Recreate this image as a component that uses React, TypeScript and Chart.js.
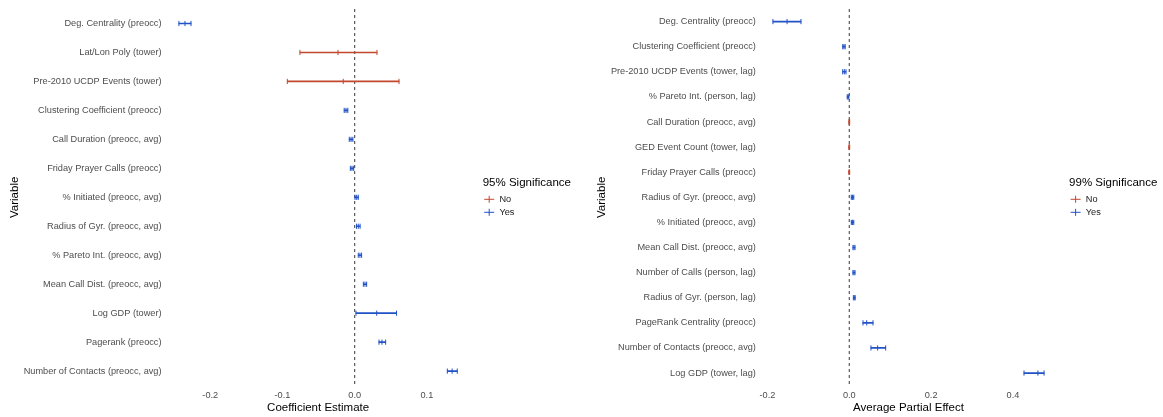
import React, { useEffect, useRef } from 'react';
import { Chart, registerables } from 'chart.js';

Chart.register(...registerables);

const RED = '#C4472F';
const BLUE = '#2152C6';
const FONT = "'Liberation Sans', Arial, Helvetica, sans-serif";

// ---- Left panel: coefficient estimates (95% CI) ----
const leftLabels = [
  'Deg. Centrality (preocc)',
  'Lat/Lon Poly (tower)',
  'Pre-2010 UCDP Events (tower)',
  'Clustering Coefficient (preocc)',
  'Call Duration (preocc, avg)',
  'Friday Prayer Calls (preocc)',
  '% Initiated (preocc, avg)',
  'Radius of Gyr. (preocc, avg)',
  '% Pareto Int. (preocc, avg)',
  'Mean Call Dist. (preocc, avg)',
  'Log GDP (tower)',
  'Pagerank (preocc)',
  'Number of Contacts (preocc, avg)',
];
const leftEstimate = [-0.235, -0.0231, -0.0158, -0.012, -0.005, -0.0037, 0.0028, 0.005, 0.0073, 0.0143, 0.0305, 0.0378, 0.135];
const leftLower = [-0.2434, -0.0758, -0.0933, -0.0145, -0.0075, -0.006, 0.0005, 0.0025, 0.005, 0.012, 0.0018, 0.0337, 0.1283];
const leftUpper = [-0.2267, 0.0309, 0.0614, -0.0095, -0.0025, -0.0014, 0.005, 0.0075, 0.0096, 0.0166, 0.058, 0.0429, 0.1421];
const leftSignificant = [true, false, false, true, true, true, true, true, true, true, true, true, true];
const leftTicks = [-0.2, -0.1, 0.0, 0.1];
const leftMin = -0.2627;
const leftMax = 0.1614;

// ---- Right panel: average partial effects (99% CI) ----
const rightLabels = [
  'Deg. Centrality (preocc)',
  'Clustering Coefficient (preocc)',
  'Pre-2010 UCDP Events (tower, lag)',
  '% Pareto Int. (person, lag)',
  'Call Duration (preocc, avg)',
  'GED Event Count (tower, lag)',
  'Friday Prayer Calls (preocc)',
  'Radius of Gyr. (preocc, avg)',
  '% Initiated (preocc, avg)',
  'Mean Call Dist. (preocc, avg)',
  'Number of Calls (person, lag)',
  'Radius of Gyr. (person, lag)',
  'PageRank Centrality (preocc)',
  'Number of Contacts (preocc, avg)',
  'Log GDP (tower, lag)',
];
const rightEstimate = [-0.152, -0.013, -0.012, -0.003, 0.0, 0.0, 0.0, 0.008, 0.008, 0.0115, 0.0115, 0.0123, 0.0425, 0.0694, 0.461];
const rightLower = [-0.1865, -0.016, -0.016, -0.005, -0.001, -0.001, -0.001, 0.005, 0.005, 0.009, 0.009, 0.010, 0.0335, 0.053, 0.427];
const rightUpper = [-0.118, -0.010, -0.008, -0.001, 0.001, 0.001, 0.001, 0.011, 0.011, 0.014, 0.014, 0.0145, 0.058, 0.089, 0.476];
const rightSignificant = [true, true, true, true, false, false, false, true, true, true, true, true, true, true, true];
const rightTicks = [-0.2, 0.0, 0.2, 0.4];
const rightMin = -0.2196;
const rightMax = 0.5091;

const legendItems = ['No', 'Yes'];

const zeroLinePlugin = {
  id: 'zeroLine',
  beforeDatasetsDraw(chart: any) {
    const { ctx, chartArea, scales } = chart;
    const x = scales.x.getPixelForValue(0);
    ctx.save();
    ctx.strokeStyle = '#4a4a4a';
    ctx.lineWidth = 1.1;
    ctx.setLineDash([3, 3]);
    ctx.beginPath();
    ctx.moveTo(x, chartArea.top);
    ctx.lineTo(x, chartArea.bottom);
    ctx.stroke();
    ctx.restore();
  },
};

const sigLegendPlugin = {
  id: 'sigLegend',
  afterDraw(chart: any, _args: any, opts: any) {
    const { ctx, chartArea } = chart;
    const x0 = chartArea.right + 11.5;
    const yc = (chartArea.top + chartArea.bottom) / 2;
    ctx.save();
    ctx.fillStyle = '#000';
    ctx.font = `11.5px ${FONT}`;
    ctx.textAlign = 'left';
    ctx.textBaseline = 'middle';
    ctx.fillText(opts.title, x0, yc - 14);
    const colors = [RED, BLUE];
    legendItems.forEach((txt, i) => {
      const y = yc + 2 + i * 13;
      const cx = x0 + 6.5;
      ctx.strokeStyle = colors[i];
      ctx.lineWidth = 1;
      ctx.beginPath();
      ctx.moveTo(cx - 5, y);
      ctx.lineTo(cx + 5, y);
      ctx.moveTo(cx, y - 3.5);
      ctx.lineTo(cx, y + 3.5);
      ctx.stroke();
      ctx.fillStyle = '#1a1a1a';
      ctx.font = `9.2px ${FONT}`;
      ctx.fillText(txt, x0 + 16.7, y);
    });
    ctx.restore();
  },
};

type PanelProps = {
  width: number;
  labels: string[];
  estimate: number[];
  lower: number[];
  upper: number[];
  significant: boolean[];
  ticks: number[];
  min: number;
  max: number;
  xTitle: string;
  legendTitle: string;
  yAxisWidth: number;
  yTitlePad: number;
  rightPad: number;
};

function Panel(p: PanelProps) {
  const ref = useRef<HTMLCanvasElement | null>(null);
  useEffect(() => {
    if (!ref.current) return;
    const colors = p.significant.map((s) => (s ? BLUE : RED));
    const chart = new Chart(ref.current, {
      type: 'bar',
      data: {
        labels: p.labels,
        datasets: [
          {
            type: 'bar',
            label: 'No',
            data: p.labels.map((_, i) => (p.significant[i] ? null : [p.lower[i], p.upper[i]])) as any,
            backgroundColor: RED,
            borderWidth: 0,
            barThickness: 1,
            grouped: false,
          } as any,
          {
            type: 'bar',
            label: 'Yes',
            data: p.labels.map((_, i) => (p.significant[i] ? [p.lower[i], p.upper[i]] : null)) as any,
            backgroundColor: BLUE,
            borderWidth: 0,
            barThickness: 1,
            grouped: false,
          } as any,
          {
            type: 'scatter',
            label: 'caps',
            data: [
              ...p.lower.map((v, i) => ({ x: v, y: p.labels[i] })),
              ...p.upper.map((v, i) => ({ x: v, y: p.labels[i] })),
            ],
            pointStyle: 'line',
            pointRotation: 90,
            pointRadius: 2.6,
            pointBorderWidth: 1,
            pointBorderColor: [...colors, ...colors],
            pointBackgroundColor: [...colors, ...colors],
          } as any,
          {
            type: 'scatter',
            label: 'estimate',
            data: p.estimate.map((v, i) => ({ x: v, y: p.labels[i] })),
            pointStyle: 'line',
            pointRotation: 90,
            pointRadius: 2.6,
            pointBorderWidth: 1,
            pointBorderColor: colors,
            pointBackgroundColor: colors,
          } as any,
        ],
      },
      options: {
        indexAxis: 'y',
        responsive: false,
        animation: false,
        events: [],
        layout: { padding: { left: 0, top: 6.4, bottom: 0, right: p.rightPad } },
        plugins: {
          legend: { display: false },
          tooltip: { enabled: false },
          sigLegend: { title: p.legendTitle },
        } as any,
        scales: {
          x: {
            type: 'linear',
            min: p.min,
            max: p.max,
            grid: { display: false, drawTicks: false },
            border: { display: false },
            afterBuildTicks: (scale: any) => {
              scale.ticks = p.ticks.map((v) => ({ value: v }));
            },
            afterFit: (scale: any) => {
              scale.height = 31.4;
            },
            ticks: {
              padding: 4,
              color: '#4D4D4D',
              font: { family: FONT, size: 9.2 },
              maxRotation: 0,
              callback: (v: any) => Number(v).toFixed(1),
            },
            title: {
              display: true,
              text: p.xTitle,
              color: '#000',
              font: { family: FONT, size: 11.5 },
              padding: { top: 0, bottom: 2 },
            },
          },
          y: {
            type: 'category',
            labels: p.labels,
            grid: { display: false, drawTicks: false },
            border: { display: false },
            afterFit: (scale: any) => {
              scale.width = p.yAxisWidth;
            },
            ticks: {
              padding: 3.5,
              autoSkip: false,
              color: '#4D4D4D',
              font: { family: FONT, size: 9.2 },
            },
            title: {
              display: true,
              text: 'Variable',
              color: '#000',
              font: { family: FONT, size: 11.5 },
              padding: { top: p.yTitlePad, bottom: 0 },
            },
          },
        },
      } as any,
      plugins: [zeroLinePlugin, sigLegendPlugin],
    });
    return () => chart.destroy();
  }, []);
  return <canvas ref={ref} width={p.width} height={417} style={{ display: 'block' }} />;
}

export default function App() {
  return (
    <div
      style={{
        position: 'absolute',
        left: 0,
        top: 0,
        width: 1163,
        height: 417,
        display: 'flex',
        background: '#fff',
      }}
    >
      <Panel
        width={580}
        labels={leftLabels}
        estimate={leftEstimate}
        lower={leftLower}
        upper={leftUpper}
        significant={leftSignificant}
        ticks={leftTicks}
        min={leftMin}
        max={leftMax}
        xTitle="Coefficient Estimate"
        legendTitle="95% Significance"
        yAxisWidth={165}
        yTitlePad={8.1}
        rightPad={108.8}
      />
      <Panel
        width={583}
        labels={rightLabels}
        estimate={rightEstimate}
        lower={rightLower}
        upper={rightUpper}
        significant={rightSignificant}
        ticks={rightTicks}
        min={rightMin}
        max={rightMax}
        xTitle="Average Partial Effect"
        legendTitle="99% Significance"
        yAxisWidth={179.4}
        yTitlePad={15.1}
        rightPad={105.4}
      />
    </div>
  );
}
